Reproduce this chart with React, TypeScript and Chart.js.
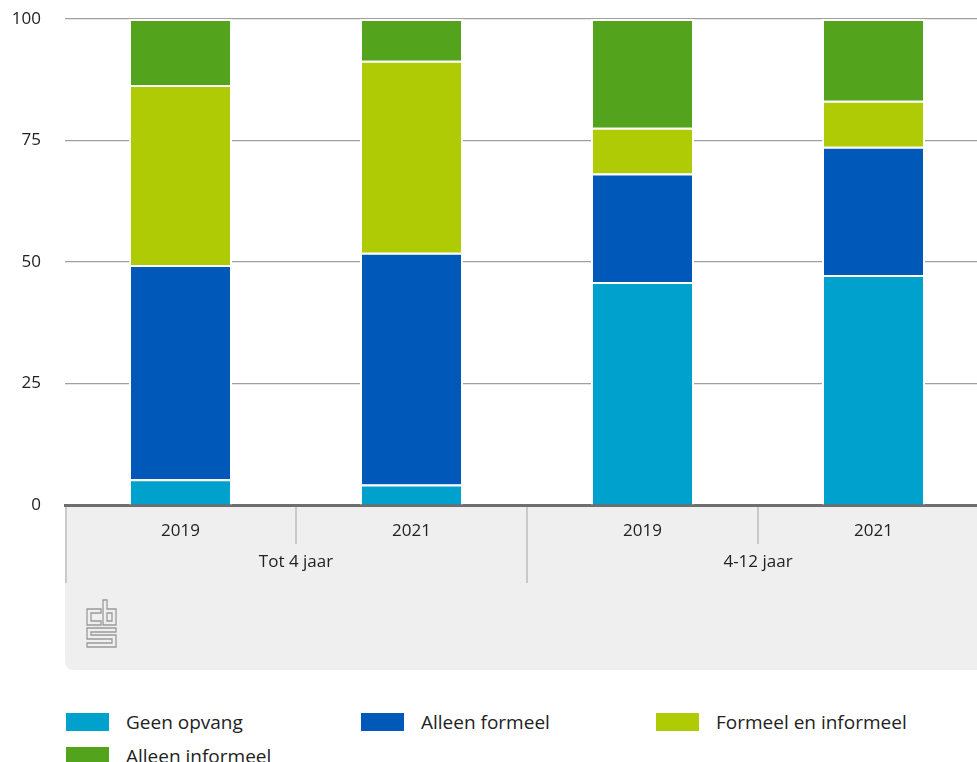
import React, { useEffect, useRef } from "react";
import { Chart, registerables } from "chart.js";

Chart.register(...registerables);

const categories = ["2019", "2021", "2019", "2021"];
const groups = ["Tot 4 jaar", "4-12 jaar"];
const categoryGroup = [0, 0, 1, 1];

const geenOpvang = [5.3, 4.2, 45.9, 47.3];
const alleenFormeel = [44.1, 47.7, 22.3, 26.4];
const formeelEnInformeel = [37.0, 39.5, 9.4, 9.5];
const alleenInformeel = [13.6, 8.6, 22.4, 16.8];

const yTicks = [0, 25, 50, 75, 100];

const seriesNames = ["Geen opvang", "Alleen formeel", "Formeel en informeel", "Alleen informeel"];
const seriesColors = ["#00a1cd", "#0058b8", "#afcb05", "#53a31d"];
const seriesValues = [geenOpvang, alleenFormeel, formeelEnInformeel, alleenInformeel];

const FONT = "'Open Sans', 'Liberation Sans', sans-serif";

const categoryPanelPlugin = {
  id: "categoryPanel",
  beforeDraw(chart: any) {
    const { ctx, chartArea, scales } = chart;
    const x = scales.x;
    const step = x.getPixelForValue(1) - x.getPixelForValue(0);
    const left = x.getPixelForValue(0) - step / 2;
    const top = chartArea.bottom + 1;
    const bottom = chartArea.bottom + 165;
    const right = chart.width + 20;
    const r = 9;
    ctx.save();
    ctx.fillStyle = "#efefef";
    ctx.beginPath();
    ctx.moveTo(left, top);
    ctx.lineTo(right, top);
    ctx.lineTo(right, bottom);
    ctx.lineTo(left + r, bottom);
    ctx.quadraticCurveTo(left, bottom, left, bottom - r);
    ctx.closePath();
    ctx.fill();

    // dividers
    ctx.strokeStyle = "#c9c9c9";
    ctx.lineWidth = 2;
    const longBottom = chartArea.bottom + 78;
    const shortBottom = chartArea.bottom + 39;
    ctx.beginPath();
    ctx.moveTo(left + 1, top);
    ctx.lineTo(left + 1, longBottom);
    for (let i = 0; i < categories.length - 1; i++) {
      const px = (x.getPixelForValue(i) + x.getPixelForValue(i + 1)) / 2;
      const sameGroup = categoryGroup[i] === categoryGroup[i + 1];
      ctx.moveTo(px, top);
      ctx.lineTo(px, sameGroup ? shortBottom : longBottom);
    }
    ctx.stroke();

    // group labels
    ctx.fillStyle = "#222";
    ctx.font = `17px ${FONT}`;
    ctx.textAlign = "center";
    ctx.textBaseline = "middle";
    groups.forEach((g, gi) => {
      const idx = categoryGroup.map((c, i) => (c === gi ? i : -1)).filter((i) => i >= 0);
      const a = x.getPixelForValue(idx[0]);
      const b = x.getPixelForValue(idx[idx.length - 1]);
      ctx.fillText(g, (a + b) / 2, chartArea.bottom + 57);
    });

    // cbs logo (outline)
    const ox = left + 22;
    const oy = chartArea.bottom + 95;
    ctx.strokeStyle = "#9a9a9a";
    ctx.lineWidth = 1.3;
    const poly = (pts: number[][]) => {
      ctx.beginPath();
      pts.forEach(([px, py], i) => (i ? ctx.lineTo(ox + px, oy + py) : ctx.moveTo(ox + px, oy + py)));
      ctx.closePath();
      ctx.stroke();
    };
    // c
    poly([[14, 9], [0, 9], [0, 25], [14, 25], [14, 21], [4, 21], [4, 13], [14, 13]]);
    // b
    poly([[16, 0], [20, 0], [20, 9], [29, 9], [29, 25], [16, 25]]);
    poly([[20, 13], [25, 13], [25, 21], [20, 21]]);
    // s
    poly([[0, 28], [29, 28], [29, 32], [4, 32], [4, 35], [29, 35], [29, 47], [0, 47], [0, 43], [25, 43], [25, 39], [0, 39]]);
    ctx.restore();
  },
};

export default function App() {
  const ref = useRef<HTMLCanvasElement | null>(null);

  useEffect(() => {
    if (!ref.current) return;
    const chart = new Chart(ref.current, {
      type: "bar",
      data: {
        labels: categories,
        datasets: seriesNames.map((name, i) => ({
          label: name,
          data: seriesValues[i],
          backgroundColor: seriesColors[i],
          borderColor: "#ffffff",
          borderWidth: 2,
          barPercentage: 0.446,
          categoryPercentage: 1,
        })),
      },
      options: {
        responsive: false,
        animation: false,
        events: [],
        layout: { padding: { top: 19, right: 11, left: 0, bottom: 0 } },
        plugins: { legend: { display: false }, tooltip: { enabled: false } },
        scales: {
          x: {
            stacked: true,
            grid: { display: false, drawTicks: false },
            border: { display: true, color: "#6e6e6e", width: 3 },
            ticks: { color: "#222", font: { family: FONT, size: 17 }, padding: 16, maxRotation: 0 },
            afterFit: (s: any) => {
              s.height = 195;
              s.paddingLeft = 0;
              s.paddingRight = 0;
            },
          },
          y: {
            stacked: true,
            min: 0,
            max: 100,
            afterBuildTicks: (s: any) => {
              s.ticks = yTicks.map((v) => ({ value: v }));
            },
            grid: {
              drawTicks: false,
              color: (c: any) => (c.tick && c.tick.value === 0 ? "rgba(0,0,0,0)" : "#a0a0a0"),
              lineWidth: 1.2,
            },
            border: { display: false },
            ticks: { color: "#222", font: { family: FONT, size: 17 }, padding: 24 },
            afterFit: (s: any) => {
              s.width = 65;
              s.paddingTop = 0;
              s.paddingBottom = 0;
            },
          },
        },
      },
      plugins: [categoryPanelPlugin],
    });
    return () => chart.destroy();
  }, []);

  return (
    <div
      style={{
        position: "fixed",
        left: 0,
        top: 0,
        width: 977,
        height: 762,
        overflow: "hidden",
        background: "#fff",
      }}
    >
      <canvas ref={ref} width={1000} height={700} style={{ display: "block", position: "absolute", left: 0, top: 0 }} />
      <div
        style={{
          position: "absolute",
          left: 66,
          top: 705,
          width: 911,
          display: "flex",
          flexWrap: "wrap",
          fontFamily: FONT,
          fontSize: 19,
          color: "#222",
        }}
      >
        {seriesNames.map((name, i) => (
          <div key={name} style={{ width: 295, height: 34, display: "flex", alignItems: "center" }}>
            <span style={{ display: "inline-block", width: 43, height: 18, background: seriesColors[i], marginRight: 17 }} />
            <span style={{ lineHeight: "34px", whiteSpace: "nowrap" }}>{name}</span>
          </div>
        ))}
      </div>
    </div>
  );
}
